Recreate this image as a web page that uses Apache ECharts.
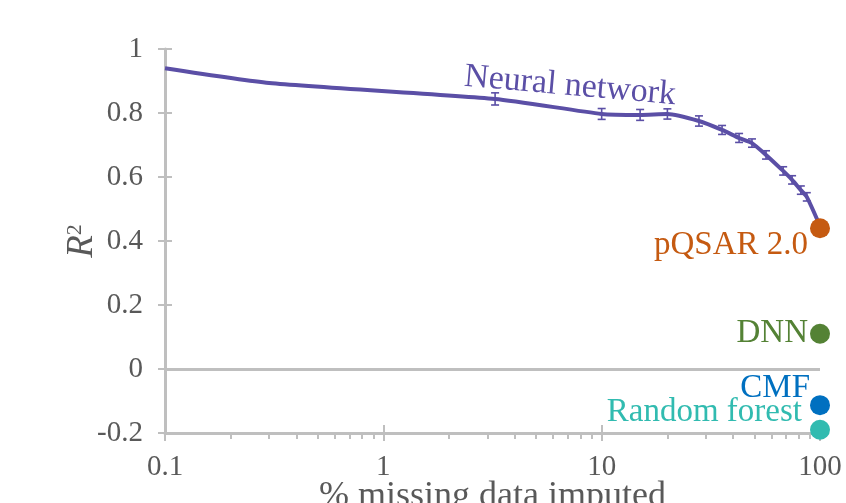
<!DOCTYPE html>
<html><head><meta charset="utf-8">
<script src="https://cdn.jsdelivr.net/npm/echarts@6/dist/echarts.min.js"></script>
<style>html,body{margin:0;padding:0;background:#fff}#c{width:846px;height:503px}</style>
</head><body><div id="c"></div>
<script>
// Neural network curve (% missing data imputed vs R^2)
const nnX = [0.1, 0.3, 3.25, 10, 15, 20, 27.9, 35.6, 42.6, 48.8, 56.6, 67.8, 74.5, 81.7, 87, 100];
const nnY = [0.94, 0.894, 0.844, 0.797, 0.794, 0.797, 0.775, 0.747, 0.722, 0.706, 0.669, 0.619, 0.591, 0.559, 0.538, 0.447];
const nnErr = [0, 0, 0.019, 0.017, 0.017, 0.016, 0.016, 0.014, 0.014, 0.013, 0.013, 0.013, 0.013, 0.013, 0.013, 0];
// Single-value methods at 100 %
const methodNames = ['pQSAR 2.0', 'DNN', 'CMF', 'Random forest'];
const methodX = [100, 100, 100, 100];
const methodY = [0.44, 0.11, -0.113, -0.19];
// Axis ticks
const xMajorTicks = [0.1, 1, 10, 100];
const xMinorTicks = [0.2,0.3,0.4,0.5,0.6,0.7,0.8,0.9,2,3,4,5,6,7,8,9,20,30,40,50,60,70,80,90];
const yTicks = [-0.2, 0, 0.2, 0.4, 0.6, 0.8, 1];

const FONT = 'Liberation Serif';
const GRAY = '#bfbfbf';
const TXT = '#595959';
const PURPLE = '#5b4fa6';
const methodColors = ['#c55a11', '#548235', '#0070c0', '#31bbb0'];
const labelOffsets = [[0, 17], [0, 0], [0, -17], [0, -17]];
const labelDist = [2, 2, 0, 8];

const chart = echarts.init(document.getElementById('c'), null, {renderer: 'canvas'});
const gridBox = {left: 165, right: 26, top: 49, bottom: 70, containLabel: false, outerBoundsMode: 'none'};

const lineData = nnX.map((x, i) => [x, nnY[i]]);
const errData = nnX.map((x, i) => [x, nnY[i], nnErr[i]]).filter(d => d[2] > 0);

const scatterSeries = methodNames.map((n, i) => ({
  type: 'scatter', name: n, xAxisIndex: 0, yAxisIndex: 0,
  data: [[methodX[i], methodY[i]]],
  symbolSize: 20, z: 5,
  itemStyle: {color: methodColors[i], opacity: 1},
  label: {show: true, position: 'left', distance: labelDist[i], offset: labelOffsets[i],
    formatter: n, color: methodColors[i], fontFamily: FONT, fontSize: 33},
  emphasis: {disabled: true}
}));

const option = {
  animation: false,
  backgroundColor: '#ffffff',
  grid: [Object.assign({}, gridBox), Object.assign({}, gridBox), Object.assign({}, gridBox)],
  xAxis: [
    {type: 'log', logBase: 10, gridIndex: 0, min: 0.1, max: 100, position: 'bottom',
     axisLine: {onZero: false, lineStyle: {color: GRAY, width: 3}},
     axisTick: {show: true, inside: false, length: 8, lineStyle: {color: GRAY, width: 2}},
     axisLabel: {color: TXT, fontFamily: FONT, fontSize: 29, margin: 20,
       formatter: v => String(v)},
     splitLine: {show: false},
     name: '% missing data imputed', nameLocation: 'middle', nameGap: 46, nameMoveOverlap: false,
     nameTextStyle: {color: TXT, fontFamily: FONT, fontSize: 36}},
    {type: 'log', logBase: 10, gridIndex: 1, min: 0.1, max: 100, position: 'bottom',
     axisLine: {show: false, onZero: false},
     axisTick: {show: true, inside: true, length: 8, lineStyle: {color: GRAY, width: 2}},
     axisLabel: {show: false}, splitLine: {show: false}},
    {type: 'log', logBase: 10, gridIndex: 2, min: 0.1, max: 100, position: 'bottom',
     axisLine: {show: false, onZero: false},
     axisTick: {show: true, inside: false, length: 6, customValues: xMinorTicks, lineStyle: {color: GRAY, width: 2}},
     axisLabel: {show: false}, splitLine: {show: false}}
  ],
  yAxis: [
    {type: 'value', gridIndex: 0, min: -0.2, max: 1, interval: 0.2, position: 'left',
     axisLine: {show: true, onZero: false, lineStyle: {color: GRAY, width: 3}},
     axisTick: {show: true, inside: false, length: 7, lineStyle: {color: GRAY, width: 2}},
     axisLabel: {color: TXT, fontFamily: FONT, fontSize: 29, margin: 22},
     splitLine: {show: false},
     name: '{i|R}{s|2}', nameLocation: 'middle', nameGap: 64, nameMoveOverlap: false,
     nameTextStyle: {rich: {
       i: {fontFamily: FONT, fontStyle: 'italic', fontSize: 37, color: TXT},
       s: {fontFamily: FONT, fontSize: 22, color: TXT, verticalAlign: 'top'}
     }}},
    {type: 'value', gridIndex: 1, min: -0.2, max: 1, interval: 0.2, position: 'left',
     axisLine: {show: false, onZero: false},
     axisTick: {show: true, inside: true, length: 7, lineStyle: {color: GRAY, width: 2}},
     axisLabel: {show: false}, splitLine: {show: false}},
    {type: 'value', gridIndex: 2, min: -0.2, max: 1, interval: 0.2, show: false}
  ],
  graphic: [{
    type: 'text', x: 570, y: 86, rotation: -0.087, z: 10,
    style: {text: 'Neural network', fill: PURPLE, fontFamily: FONT, fontSize: 34,
      align: 'center', verticalAlign: 'middle'}
  }],
  series: [
    {type: 'line', xAxisIndex: 0, yAxisIndex: 0, data: lineData, smooth: 0.2,
     showSymbol: false, symbol: 'none', z: 3,
     lineStyle: {color: PURPLE, width: 4},
     markLine: {silent: true, symbol: 'none', label: {show: false},
       lineStyle: {color: GRAY, width: 3, type: 'solid'},
       data: [{yAxis: 0}]}},
    {type: 'custom', xAxisIndex: 0, yAxisIndex: 0, data: errData, z: 4,
     renderItem: function (params, api) {
       const x = api.value(0), y = api.value(1), e = api.value(2);
       const t = api.coord([x, y + e]), b = api.coord([x, y - e]);
       const w = 4, st = {stroke: PURPLE, lineWidth: 1.6};
       return {type: 'group', children: [
         {type: 'line', shape: {x1: t[0], y1: t[1], x2: b[0], y2: b[1]}, style: st},
         {type: 'line', shape: {x1: t[0] - w, y1: t[1], x2: t[0] + w, y2: t[1]}, style: st},
         {type: 'line', shape: {x1: b[0] - w, y1: b[1], x2: b[0] + w, y2: b[1]}, style: st}
       ]};
     }}
  ].concat(scatterSeries)
};
chart.setOption(option);
</script></body></html>
